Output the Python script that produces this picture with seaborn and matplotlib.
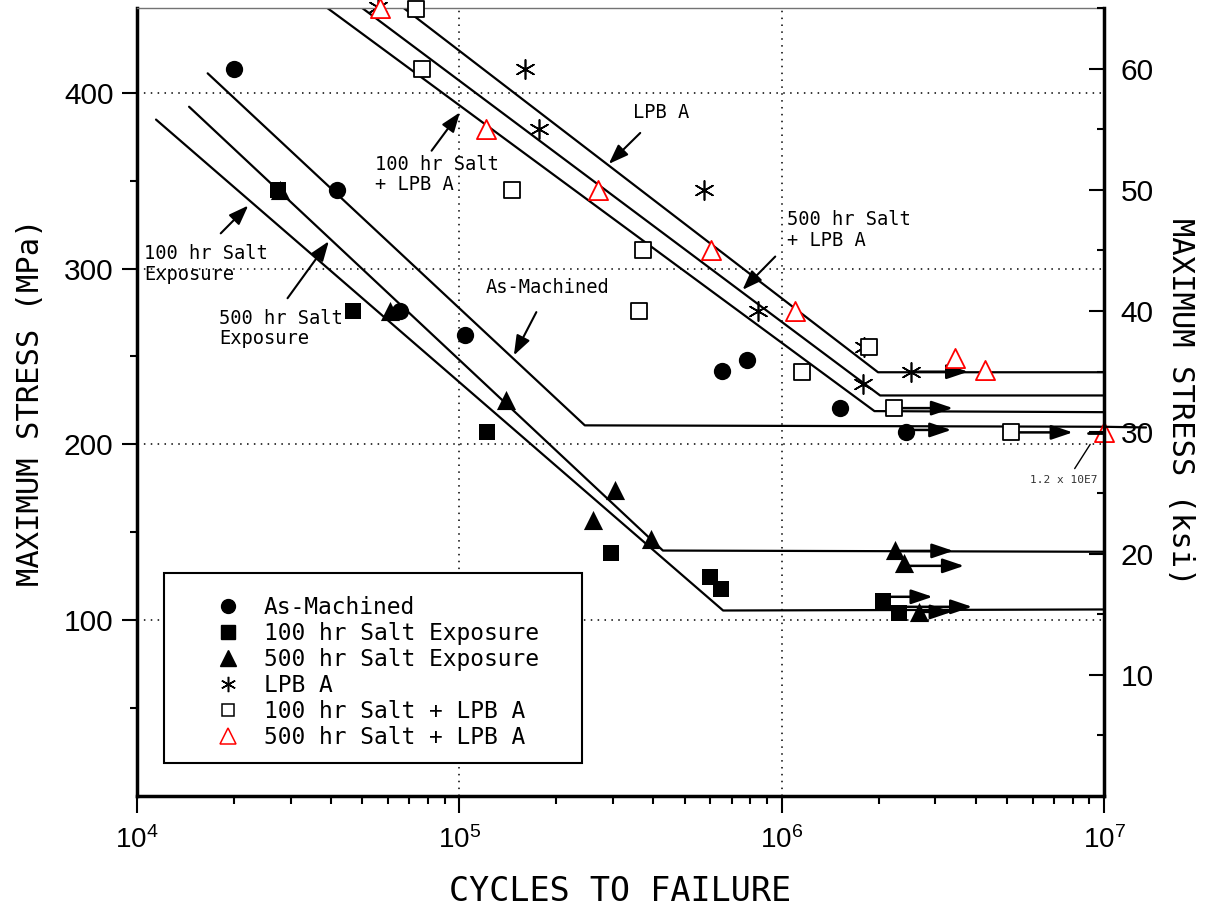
import numpy as np
import pandas as pd
import matplotlib
matplotlib.use("Agg")
import matplotlib.pyplot as plt
import seaborn as sns
from matplotlib.ticker import FixedLocator, FixedFormatter, LogLocator, NullFormatter
from matplotlib.patches import Rectangle
from matplotlib.lines import Line2D

MPA_PER_KSI = 6.89476

# ---------------- data (cycles, MPa) ----------------
series_names = ["As-Machined", "100 hr Salt Exposure", "500 hr Salt Exposure",
                "LPB A", "100 hr Salt + LPB A", "500 hr Salt + LPB A"]

as_mach_cycles = [2.0e4, 4.17e4, 6.54e4, 1.04e5, 6.51e5, 7.79e5, 1.52e6, 2.43e6]
as_mach_stress = [413.5, 344.5, 275.8, 262.0, 241.5, 248.2, 220.6, 206.8]

salt100_cycles = [2.74e4, 4.69e4, 1.22e5, 2.95e5, 5.98e5, 6.49e5, 2.06e6, 2.31e6]
salt100_stress = [344.7, 275.8, 206.8, 138.2, 124.6, 117.6, 111.0, 103.8]

salt500_cycles = [2.77e4, 6.08e4, 1.40e5, 2.60e5, 3.05e5, 3.92e5, 2.24e6, 2.39e6, 2.67e6]
salt500_stress = [344.7, 275.8, 225.0, 157.2, 173.9, 146.0, 139.8, 132.4, 104.7]

lpb_cycles = [5.58e4, 1.60e5, 1.76e5, 5.73e5, 8.46e5, 1.80e6, 1.79e6, 2.52e6]
lpb_stress = [449.0, 413.7, 379.2, 344.7, 275.8, 255.1, 234.4, 241.3]

salt100_lpb_cycles = [7.36e4, 7.64e4, 1.456e5, 3.70e5, 3.60e5, 1.155e6, 1.86e6, 2.23e6, 5.15e6]
salt100_lpb_stress = [447.6, 413.7, 344.7, 310.3, 275.8, 241.3, 255.1, 220.6, 206.8]

salt500_lpb_cycles = [5.67e4, 1.21e5, 2.70e5, 6.03e5, 1.10e6, 3.44e6, 4.28e6, 1.0e7]
salt500_lpb_stress = [448.2, 379.2, 344.7, 310.3, 275.8, 249.0, 242.0, 206.8]

# fitted S-N curves (sloped part + endurance limit)
fit_as_cycles = [1.656e4, 2.45e5, 1.0e7]
fit_as_stress = [411.0, 210.8, 210.0]
fit_as_ext_cycles = [1.0e7, 1.35e7]
fit_as_ext_stress = [210.0, 209.6]
fit_salt100_cycles = [1.145e4, 6.58e5, 1.0e7]
fit_salt100_stress = [384.7, 105.5, 106.1]
fit_salt500_cycles = [1.45e4, 4.28e5, 1.0e7]
fit_salt500_stress = [392.0, 139.6, 138.9]
fit_lpb_cycles = [6.71e4, 1.99e6, 1.0e7]
fit_lpb_stress = [448.2, 241.0, 241.0]
fit_salt500_lpb_cycles = [4.99e4, 2.02e6, 1.0e7]
fit_salt500_lpb_stress = [448.2, 227.8, 227.8]
fit_salt100_lpb_cycles = [3.89e4, 1.94e6, 1.0e7]
fit_salt100_lpb_stress = [448.2, 218.9, 218.3]

# run-out arrows
runout_start = [2.43e6, 2.23e6, 5.15e6, 2.52e6, 2.24e6, 2.39e6, 2.06e6, 2.31e6, 2.67e6]
runout_end = [3.36e6, 3.40e6, 8.0e6, 3.79e6, 3.41e6, 3.68e6, 2.94e6, 3.90e6, 3.37e6]
runout_stress = [208.2, 220.6, 206.8, 241.3, 139.4, 130.9, 113.3, 107.6, 104.7]
runout_stub_cycles = [8.9e6, 1.0e7]
runout_stub_stress = [206.6, 206.6]

# curve labels
ann_texts = ["LPB A", "500 hr Salt\n+ LPB A", "100 hr Salt\n+ LPB A",
             "100 hr Salt\nExposure", "500 hr Salt\nExposure", "As-Machined"]
ann_text_x = [3.45e5, 1.04e6, 5.47e4, 1.051e4, 1.795e4, 1.205e5]
ann_text_y = [388.6, 322.0, 353.4, 302.5, 265.9, 289.0]
ann_tail_x = [3.64e5, 9.55e5, 8.2e4, 1.818e4, 2.93e4, 1.733e5]
ann_tail_y = [377.1, 306.8, 367.0, 320.0, 283.1, 275.2]
ann_tip_x = [2.908e5, 7.56e5, 1.004e5, 2.213e4, 3.935e4, 1.476e5]
ann_tip_y = [359.5, 287.9, 388.8, 335.8, 315.5, 250.6]

note_text = "1.2 x 10E7"
note_x, note_y = 7.48e6, 180.0
note_line_cycles = [8.11e6, 9.06e6]
note_line_stress = [186.2, 200.0]

x_ticks = [1e4, 1e5, 1e6, 1e7]
x_tick_labels = [r"$\mathregular{10^{4}}$", r"$\mathregular{10^{5}}$",
                 r"$\mathregular{10^{6}}$", r"$\mathregular{10^{7}}$"]
y_ticks_mpa = [100, 200, 300, 400]
y_minor_mpa = [50, 150, 250, 350]
y_ticks_ksi = [10, 20, 30, 40, 50, 60]
y_minor_ksi = [5, 15, 25, 35, 45, 55, 65]

# ---------------- style ----------------
sns.set_style("white")
plt.rcParams["font.family"] = ["DejaVu Sans Mono", "DejaVu Sans"]
plt.rcParams["text.color"] = "black"
plt.rcParams["axes.labelcolor"] = "black"
plt.rcParams["xtick.color"] = "black"
plt.rcParams["ytick.color"] = "black"

fig = plt.figure(figsize=(12.14, 9.09), dpi=100)
ax = fig.add_axes([0.1129, 0.1243, 0.7965, 0.8669])
ax.set_xscale("log")
ax.set_xlim(1e4, 1e7)
ax.set_ylim(0, 65 * MPA_PER_KSI)

# grid
ax.set_axisbelow(True)
ax.grid(True, which="major", color="k", linestyle=(0, (1, 3.5)), linewidth=1.1)

# fitted lines
line_kw = dict(color="k", linewidth=1.6, estimator=None, sort=False, ax=ax, legend=False)
for cx, cy in [(fit_as_cycles, fit_as_stress), (fit_salt100_cycles, fit_salt100_stress),
               (fit_salt500_cycles, fit_salt500_stress), (fit_lpb_cycles, fit_lpb_stress),
               (fit_salt500_lpb_cycles, fit_salt500_lpb_stress),
               (fit_salt100_lpb_cycles, fit_salt100_lpb_stress)]:
    sns.lineplot(x=cx, y=cy, **line_kw)
ax.plot(fit_as_ext_cycles, fit_as_ext_stress, color="k", lw=1.6, clip_on=False, zorder=6)
ax.plot(runout_stub_cycles, runout_stub_stress, color="k", lw=2.0, zorder=6, clip_on=False)

# run-out arrows
for xs, xe, yv in zip(runout_start, runout_end, runout_stress):
    ax.annotate("", xy=(xe, yv), xytext=(xs, yv),
                arrowprops=dict(arrowstyle="-|>,head_length=0.65,head_width=0.22",
                                color="k", lw=1.8, shrinkA=0, shrinkB=0, mutation_scale=20),
                zorder=2)

# data points
sc_kw = dict(ax=ax, clip_on=False, zorder=4)
sns.scatterplot(x=as_mach_cycles, y=as_mach_stress, marker="o", s=155, color="k",
                edgecolor="k", linewidth=0, label=series_names[0], **sc_kw)
sns.scatterplot(x=salt100_cycles, y=salt100_stress, marker="s", s=140, color="k",
                edgecolor="k", linewidth=0, label=series_names[1], **sc_kw)
sns.scatterplot(x=salt500_cycles, y=salt500_stress, marker="^", s=190, color="k",
                edgecolor="k", linewidth=0, label=series_names[2], **sc_kw)
sns.scatterplot(x=lpb_cycles, y=lpb_stress, marker=(6, 2, 0), s=190, color="k",
                linewidth=1.2, label=series_names[3], **sc_kw)
sns.scatterplot(x=salt100_lpb_cycles, y=salt100_lpb_stress, marker="s", s=125, color="k",
                facecolor="white", edgecolor="k", linewidth=1.3, label=series_names[4], **sc_kw)
sns.scatterplot(x=salt500_lpb_cycles, y=salt500_lpb_stress, marker="^", s=190, color="red",
                facecolor="white", edgecolor="red", linewidth=1.3, label=series_names[5], **sc_kw)

# curve labels with arrows
for t, tx, ty, ax0, ay0, ax1, ay1 in zip(ann_texts, ann_text_x, ann_text_y, ann_tail_x,
                                         ann_tail_y, ann_tip_x, ann_tip_y):
    ax.text(tx, ty, t, ha="left", va="center", fontsize=13.5, linespacing=1.1,
            family="DejaVu Sans Mono", color="black", zorder=5)
    ax.annotate("", xy=(ax1, ay1), xytext=(ax0, ay0),
                arrowprops=dict(arrowstyle="-|>,head_length=0.6,head_width=0.22",
                                color="k", lw=1.5, shrinkA=0, shrinkB=0, mutation_scale=20))
ax.text(note_x, note_y, note_text, ha="center", va="center", fontsize=8,
        family="DejaVu Sans Mono", color="0.2")
ax.plot(note_line_cycles, note_line_stress, color="k", lw=1.0)

# axes ticks
ax.xaxis.set_major_locator(FixedLocator(x_ticks))
ax.xaxis.set_major_formatter(FixedFormatter(x_tick_labels))
ax.xaxis.set_minor_locator(LogLocator(base=10, subs=np.arange(2, 10)))
ax.xaxis.set_minor_formatter(NullFormatter())
ax.yaxis.set_major_locator(FixedLocator(y_ticks_mpa))
ax.yaxis.set_minor_locator(FixedLocator(y_minor_mpa))
ax.tick_params(axis="both", which="major", direction="out", width=1.5,
               labelfontfamily="Liberation Sans", colors="k")
ax.tick_params(axis="x", which="major", length=12, pad=10, labelsize=20, bottom=True, top=False)
ax.tick_params(axis="x", which="minor", length=6, width=1.5, bottom=True, top=False, colors="k")
ax.tick_params(axis="y", which="major", length=11, pad=6, labelsize=21.5, left=True, right=False)
ax.tick_params(axis="y", which="minor", length=5, width=1.5, left=True, right=False, colors="k")

for side in ["left", "bottom"]:
    ax.spines[side].set_linewidth(2.5)
    ax.spines[side].set_color("k")
ax.spines["top"].set_linewidth(1.0)
ax.spines["top"].set_color("0.45")
ax.spines["right"].set_visible(False)

ax2 = ax.twinx()
ax2.set_ylim(0, 65)
ax2.yaxis.set_major_locator(FixedLocator(y_ticks_ksi))
ax2.yaxis.set_minor_locator(FixedLocator(y_minor_ksi))
ax2.tick_params(axis="y", which="major", direction="in", length=11, width=1.5, pad=12,
                labelsize=21.5, labelfontfamily="Liberation Sans", colors="k")
ax2.tick_params(axis="y", which="minor", direction="in", length=5, width=1.5, colors="k")
for side in ["left", "bottom", "top"]:
    ax2.spines[side].set_visible(False)
ax2.spines["right"].set_linewidth(2.5)
ax2.spines["right"].set_color("k")

# axis labels
ax.set_xlabel("CYCLES TO FAILURE", fontsize=24, va="center", color="black")
ax.xaxis.set_label_coords(0.5, -0.1214)
ax.set_ylabel("MAXIMUM STRESS (MPa)", fontsize=22, va="center", color="black")
ax.yaxis.set_label_coords(-0.1105, 0.5)
ax2.set_ylabel("MAXIMUM STRESS (ksi)", fontsize=22, rotation=-90, va="center", color="black")
ax2.yaxis.set_label_coords(1.0796, 0.5)

# legend (frame drawn separately)
handles = [
    Line2D([], [], ls="none", marker="o", ms=10, mfc="k", mec="k"),
    Line2D([], [], ls="none", marker="s", ms=9.5, mfc="k", mec="k"),
    Line2D([], [], ls="none", marker="^", ms=11, mfc="k", mec="k"),
    Line2D([], [], ls="none", marker=(6, 2, 0), ms=11, mfc="k", mec="k", mew=1.1),
    Line2D([], [], ls="none", marker="s", ms=8.5, mfc="white", mec="k", mew=1.1),
    Line2D([], [], ls="none", marker="^", ms=11, mfc="white", mec="red", mew=1.1),
]
if ax.get_legend() is not None:
    ax.get_legend().remove()
leg = ax.legend(handles, series_names, loc="upper left", bbox_to_anchor=(0.0822, 0.2538),
                frameon=False, borderpad=0, borderaxespad=0,
                handlelength=1.0, handletextpad=1.07, labelspacing=0.127,
                prop={"family": "DejaVu Sans Mono", "size": 16.5})
for txt in leg.get_texts():
    txt.set_color("black")
leg.set_zorder(7)
ax.add_patch(Rectangle((0.0279, 0.0419), 0.4323, 0.2411, transform=ax.transAxes,
                       facecolor="white", edgecolor="k", lw=1.5, zorder=6.5))

fig.savefig("out.png", dpi=100)
